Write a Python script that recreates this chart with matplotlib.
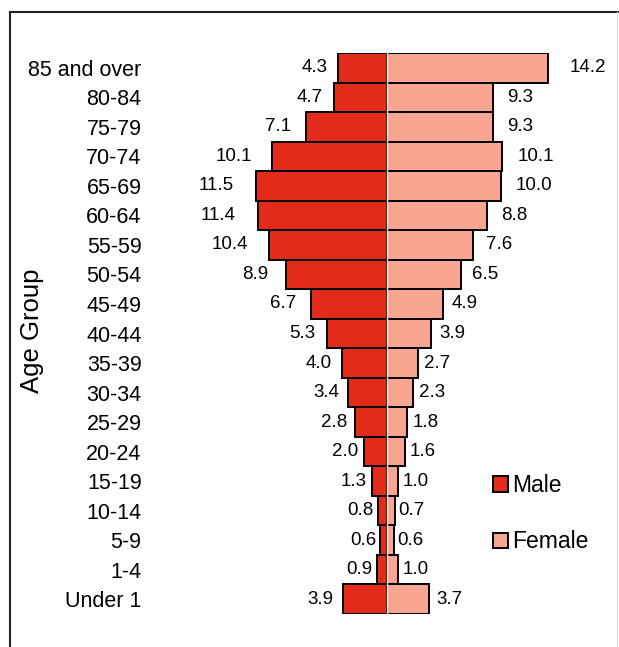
import matplotlib
matplotlib.use("Agg")
import matplotlib.pyplot as plt
from matplotlib.lines import Line2D

plt.rcParams['font.family'] = ['Liberation Sans', 'DejaVu Sans']

# Age groups, from oldest (top) to youngest (bottom)
age_groups = ['85 and over', '80-84', '75-79', '70-74', '65-69', '60-64', '55-59',
              '50-54', '45-49', '40-44', '35-39', '30-34', '25-29', '20-24',
              '15-19', '10-14', '5-9', '1-4', 'Under 1']
male = [4.3, 4.7, 7.1, 10.1, 11.5, 11.4, 10.4, 8.9, 6.7, 5.3, 4.0, 3.4, 2.8,
        2.0, 1.3, 0.8, 0.6, 0.9, 3.9]
female = [14.2, 9.3, 9.3, 10.1, 10.0, 8.8, 7.6, 6.5, 4.9, 3.9, 2.7, 2.3, 1.8,
          1.6, 1.0, 0.7, 0.6, 1.0, 3.7]

male_color = '#E22B18'
female_color = '#F8A591'

fig = plt.figure(figsize=(6.19, 6.47), dpi=100)
ax = fig.add_axes([150 / 619, 33 / 647, 460 / 619, 561 / 647])

n = len(age_groups)
ypos = [n - 1 - i for i in range(n)]

bm = ax.barh(ypos, [-v for v in male], height=1.0, color=male_color,
             edgecolor='black', linewidth=1.4, label='Male')
bf = ax.barh(ypos, female, height=1.0, color=female_color,
             edgecolor='black', linewidth=1.4, label='Female')
ax.axvline(0, color='#f6e6e0', linewidth=1.0, zorder=3)

# value labels
for y, m, f in zip(ypos, male, female):
    ax.text(-(m * 1.15 + 0.26), y, f'{m:.1f}', ha='right', va='center', fontsize=13.5)
    ax.text(f * 1.115 + 0.22, y, f'{f:.1f}', ha='left', va='center', fontsize=13.5)

ax.set_xlim(-(387 - 150) / 11.35, (610 - 387) / 11.35)
ax.set_ylim(-0.5, n - 0.5)
ax.set_yticks(ypos)
ax.set_yticklabels(age_groups, fontsize=15.5)
ax.tick_params(axis='y', length=0, pad=6)
ax.set_xticks([])
for s in ax.spines.values():
    s.set_visible(False)

fig.text(32 / 619, 1 - 331 / 647, 'Age Group', rotation=90, ha='center',
         va='center', fontsize=18.5)

ax.legend(handles=[bm, bf], loc='upper left', bbox_to_anchor=(493 / 619, 1 - 474 / 647),
          bbox_transform=fig.transFigure, frameon=False, fontsize=16.5,
          handlelength=0.65, handleheight=0.65, handletextpad=0.2,
          labelspacing=1.45, borderpad=0, borderaxespad=0)

# outer border (top, left dark; right faint)
fig.add_artist(Line2D([10 / 619, 10 / 619], [0, 1 - 12 / 647], color='#222222',
                      linewidth=1.5, transform=fig.transFigure))
fig.add_artist(Line2D([10 / 619, 1], [1 - 12 / 647, 1 - 12 / 647], color='#222222',
                      linewidth=1.5, transform=fig.transFigure))
fig.add_artist(Line2D([617 / 619, 617 / 619], [0, 1 - 12 / 647], color='#dddddd',
                      linewidth=1.0, transform=fig.transFigure))

fig.savefig('out.png', dpi=100)
